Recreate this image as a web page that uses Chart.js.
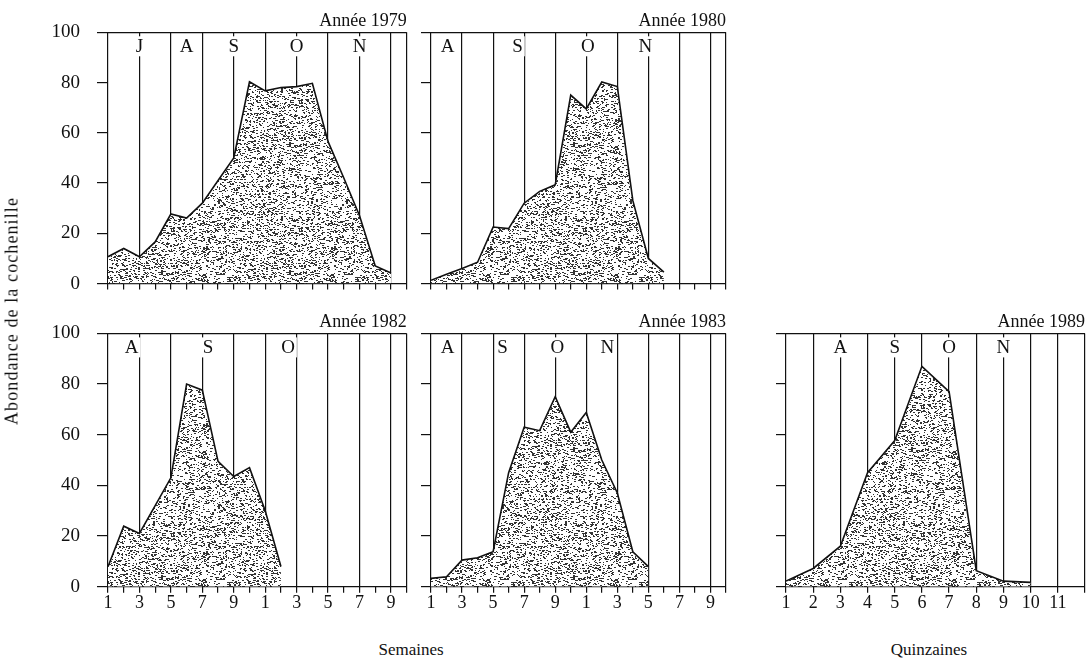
<!DOCTYPE html>
<html lang="fr">
<head>
<meta charset="utf-8">
<title>Abondance de la cochenille</title>
<script src="https://cdn.jsdelivr.net/npm/chart.js@4.4.1/dist/chart.umd.min.js"></script>
<style>
  body { margin: 0; background: #fff; width: 1087px; height: 663px; position: relative; overflow: hidden;
         font-family: "Liberation Serif", serif; color: #111; }
  canvas { position: absolute; }
  .texte { position: absolute; font-size: 17px; white-space: nowrap; transform: translate(-50%, -50%); }
  #titreY { left: 12px; top: 311px; transform: translate(-50%, -50%) rotate(-90deg); font-size: 18px; letter-spacing: 1.1px; }
</style>
</head>
<body>
<canvas id="c1979"></canvas>
<canvas id="c1980"></canvas>
<canvas id="c1982"></canvas>
<canvas id="c1983"></canvas>
<canvas id="c1989"></canvas>
<div class="texte" id="titreY">Abondance de la cochenille</div>
<div class="texte" style="left:411px; top:650px;">Semaines</div>
<div class="texte" style="left:929px; top:650px;">Quinzaines</div>
<script>
// valeurs (abondance, 0-100)
const semaines1979 = [1, 2, 3, 4, 5, 6, 7, 8, 9, 10, 11, 12, 13, 14, 15, 16, 17, 18, 19];
const abondance1979 = [10.7, 14, 10.7, 16.6, 27.7, 26.1, 32, 41, 50, 80.3, 76.7, 78, 78.4, 79.7, 56.5, 42, 27, 7, 4.2];
const mois1979 = ["J", "A", "S", "O", "N"];
const posMois1979 = [3, 6, 9, 13, 17];

const semaines1980 = [1, 2, 3, 4, 5, 6, 7, 8, 9, 10, 11, 12, 13, 14, 15, 16];
const abondance1980 = [1.3, 3.7, 6, 8.5, 22.5, 21.9, 32, 36.7, 39.3, 75, 69.5, 80.2, 78.4, 33, 10, 4.6];
const mois1980 = ["A", "S", "O", "N"];
const posMois1980 = [2.07, 6.57, 11.1, 14.8];

const semaines1982 = [1, 2, 3, 4, 5, 6, 7, 8, 9, 10, 11, 12];
const abondance1982 = [7.9, 23.9, 21, 32, 43, 80, 77.6, 49.5, 43.5, 47, 30, 8];
const mois1982 = ["A", "S", "O"];
const posMois1982 = [2.5, 7.36, 12.45];

const semaines1983 = [1, 2, 3, 4, 5, 6, 7, 8, 9, 10, 11, 12, 13, 14, 15];
const abondance1983 = [3.3, 3.9, 10.5, 11.4, 13.8, 45, 63, 61.6, 75, 61, 68.8, 50, 37, 13.8, 7.9];
const mois1983 = ["A", "S", "O", "N"];
const posMois1983 = [2.07, 5.6, 9.14, 12.36];

const quinzaines1989 = [1, 2, 3, 4, 5, 6, 7, 8, 9, 10];
const abondance1989 = [2.2, 7.2, 16, 45, 57.7, 87, 77, 6.3, 2.2, 1.7];
const mois1989 = ["A", "S", "O", "N"];
const posMois1989 = [3, 5, 7, 9];

const graduationsY = [0, 20, 40, 60, 80, 100];

const police = '"Liberation Serif", serif';
const noir = "#111";

// trame pointillée pour le remplissage (générateur fixe, pas de hasard)
// fond blanc opaque pour cacher les traits de la grille sous la courbe
function creerTrame() {
  const c = document.createElement("canvas");
  c.width = 128;
  c.height = 128;
  const g = c.getContext("2d");
  g.fillStyle = "#fff";
  g.fillRect(0, 0, 128, 128);
  let s = 4242;
  const suivant = () => { s = (s * 16807) % 2147483647; return s / 2147483647; };
  g.fillStyle = "#333";
  for (let i = 0; i < 3200; i++) {
    const px = Math.floor(suivant() * 128);
    const py = Math.floor(suivant() * 128);
    g.fillRect(px, py, suivant() < 0.5 ? 2 : 1, 1);
  }
  return g.createPattern(c, "repeat");
}
const trame = creerTrame();

const panneauPlugin = {
  id: "panneau",
  afterDraw(chart, args, o) {
    const { ctx, chartArea, scales } = chart;
    ctx.save();
    ctx.fillStyle = noir;
    ctx.font = "18px " + police;
    ctx.textAlign = "right";
    ctx.textBaseline = "alphabetic";
    ctx.fillText(o.titre, chartArea.right, chartArea.top - 6);
    ctx.font = "19px " + police;
    ctx.textAlign = "center";
    ctx.textBaseline = "middle";
    o.lettres.forEach((l, i) => {
      const x = scales.x.getPixelForValue(o.pos[i]);
      const y = chartArea.top + 14;
      const w = ctx.measureText(l).width;
      ctx.fillStyle = "#fff";
      ctx.fillRect(x - w / 2 - 2, y - 10, w + 4, 20);
      ctx.fillStyle = noir;
      ctx.fillText(l, x, y + 1);
    });
    ctx.restore();
  }
};

function creerPanneau(id, cadre, zone, o) {
  const canvas = document.getElementById(id);
  canvas.width = cadre.width;
  canvas.height = cadre.height;
  canvas.style.left = cadre.left + "px";
  canvas.style.top = cadre.top + "px";
  const largeurY = zone.left - cadre.left;
  const hauteurX = cadre.top + cadre.height - zone.bottom;

  return new Chart(canvas, {
    type: "line",
    data: {
      datasets: [{
        data: o.x.map((v, i) => ({ x: v, y: o.y[i] })),
        borderColor: noir,
        borderWidth: 1.6,
        backgroundColor: trame,
        fill: "origin",
        pointRadius: 0,
        tension: 0
      }]
    },
    options: {
      responsive: false,
      animation: false,
      devicePixelRatio: 1,
      layout: {
        padding: { left: 0, right: cadre.left + cadre.width - zone.right, top: zone.top - cadre.top, bottom: 0 }
      },
      plugins: {
        legend: { display: false },
        tooltip: { enabled: false },
        panneau: { titre: o.titre, lettres: o.lettres, pos: o.pos }
      },
      scales: {
        x: {
          type: "linear",
          min: 1,
          max: o.xMax,
          afterFit: s => { s.height = hauteurX; },
          border: { display: false },
          grid: {
            color: c => o.trait(c.tick.value) ? noir : "rgba(0,0,0,0)",
            tickColor: noir,
            tickLength: 6,
            lineWidth: 1.2
          },
          ticks: {
            stepSize: 1,
            autoSkip: false,
            maxRotation: 0,
            padding: 0,
            color: noir,
            font: { family: police, size: 18 },
            callback: v => o.etiquettesX ? o.etiquette(v) : ""
          }
        },
        y: {
          min: 0,
          max: 100,
          afterFit: s => { s.width = largeurY; },
          afterBuildTicks: s => { s.ticks = graduationsY.map(v => ({ value: v })); },
          border: { display: false },
          grid: {
            color: c => (c.tick.value === 0 || c.tick.value === 100) ? noir : "rgba(0,0,0,0)",
            tickColor: noir,
            tickLength: largeurY > 40 ? 11 : 10,
            lineWidth: 1.2
          },
          ticks: {
            padding: 17,
            color: noir,
            font: { family: police, size: 19 },
            callback: v => o.etiquettesY ? String(v) : ""
          }
        }
      }
    },
    plugins: [panneauPlugin]
  });
}

const traitSemaine = v => v % 2 === 1 || v === 20;
const etiquetteSemaine = v => (v % 2 === 1 && v < 20) ? String(v % 10) : "";
const traitQuinzaine = v => true;
const etiquetteQuinzaine = v => v <= 11 ? String(v) : "";

creerPanneau("c1979", { left: 0, top: 0, width: 412, height: 312 },
  { left: 108, right: 406.7, top: 32.3, bottom: 287.3 },
  { x: semaines1979, y: abondance1979, xMax: 20, titre: "Année 1979", lettres: mois1979, pos: posMois1979,
    trait: traitSemaine, etiquette: etiquetteSemaine, etiquettesX: false, etiquettesY: true });

creerPanneau("c1980", { left: 412, top: 0, width: 322, height: 312 },
  { left: 431, right: 726, top: 32.3, bottom: 287.3 },
  { x: semaines1980, y: abondance1980, xMax: 20, titre: "Année 1980", lettres: mois1980, pos: posMois1980,
    trait: traitSemaine, etiquette: etiquetteSemaine, etiquettesX: false, etiquettesY: false });

creerPanneau("c1982", { left: 0, top: 305, width: 412, height: 320 },
  { left: 108, right: 406.7, top: 332.3, bottom: 586.7 },
  { x: semaines1982, y: abondance1982, xMax: 20, titre: "Année 1982", lettres: mois1982, pos: posMois1982,
    trait: traitSemaine, etiquette: etiquetteSemaine, etiquettesX: true, etiquettesY: true });

creerPanneau("c1983", { left: 412, top: 305, width: 322, height: 320 },
  { left: 431, right: 726, top: 332.3, bottom: 586.7 },
  { x: semaines1983, y: abondance1983, xMax: 20, titre: "Année 1983", lettres: mois1983, pos: posMois1983,
    trait: traitSemaine, etiquette: etiquetteSemaine, etiquettesX: true, etiquettesY: false });

creerPanneau("c1989", { left: 750, top: 305, width: 337, height: 320 },
  { left: 786, right: 1085, top: 332.3, bottom: 586.7 },
  { x: quinzaines1989, y: abondance1989, xMax: 12, titre: "Année 1989", lettres: mois1989, pos: posMois1989,
    trait: traitQuinzaine, etiquette: etiquetteQuinzaine, etiquettesX: true, etiquettesY: false });
</script>
</body>
</html>
